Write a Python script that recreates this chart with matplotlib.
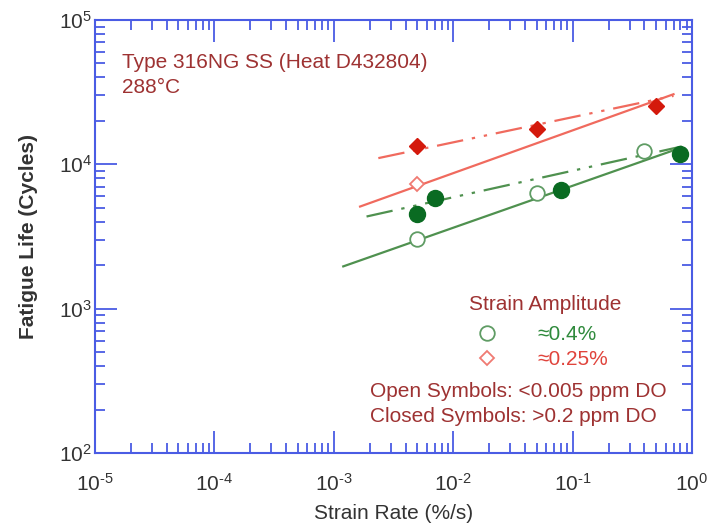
import matplotlib
matplotlib.use("Agg")
import matplotlib.pyplot as plt
from matplotlib.ticker import LogLocator, NullFormatter, FuncFormatter
import numpy as np

plt.rcParams['font.family'] = ['Liberation Sans', 'DejaVu Sans']
plt.rcParams['mathtext.fontset'] = 'custom'
plt.rcParams['mathtext.rm'] = 'Liberation Sans'
plt.rcParams['axes.unicode_minus'] = False

# ---- data ----
# 0.4% strain amplitude, open symbols (<0.005 ppm DO)
g_open_rate = [0.005, 0.05, 0.40]
g_open_life = [3040, 6320, 12460]
# 0.4% strain amplitude, closed symbols (>0.2 ppm DO)
g_closed_rate = [0.005, 0.007, 0.08, 0.80]
g_closed_life = [4540, 5890, 6660, 11820]
# 0.25% strain amplitude, open symbols
r_open_rate = [0.005]
r_open_life = [7330]
# 0.25% strain amplitude, closed symbols
r_closed_rate = [0.005, 0.05, 0.50]
r_closed_life = [13430, 17600, 25400]

# trend lines (end points)
g_solid_rate = [0.0012, 0.79]
g_solid_life = [1963, 12950]
g_dash_rate = [0.00188, 0.82]
g_dash_life = [4350, 13290]
r_solid_rate = [0.00166, 0.70]
r_solid_life = [5100, 30600]
r_dash_rate = [0.00236, 0.70]
r_dash_life = [11040, 29800]

xlim = (1e-5, 1.0)
ylim = (1e2, 1e5)

# ---- colours ----
BLUE = '#4a5ce4'
DARKRED = '#9e3232'
GRAY = '#333333'
RED_LINE = '#f06a5e'
RED_FILL = '#d4190c'
RED_OPEN = '#f07a72'
GREEN_LINE = '#4f914f'
GREEN_FILL = '#0a6b22'
GREEN_OPEN = '#5f9c64'

FS = 15


def pow10(v, pos):
    e = int(round(np.log10(v)))
    if e < 0:
        return r'$\mathdefault{10^{\text{-}%d}}$' % (-e)
    return r'$\mathdefault{10^{%d}}$' % e


fig = plt.figure(figsize=(7.18, 5.28), dpi=100)
ax = fig.add_axes([95/718, 75/528, 597/718, 433/528])
ax.set_xscale('log')
ax.set_yscale('log')
ax.set_xlim(*xlim)
ax.set_ylim(*ylim)

dd = (0, (12, 4, 1.5, 4, 1.5, 4))
ax.plot(g_solid_rate, g_solid_life, color=GREEN_LINE, lw=1.6, zorder=2)
ax.plot(g_dash_rate, g_dash_life, color=GREEN_LINE, lw=1.6, ls=dd, zorder=2)
ax.plot(r_solid_rate, r_solid_life, color=RED_LINE, lw=1.6, zorder=2)
ax.plot(r_dash_rate, r_dash_life, color=RED_LINE, lw=1.6, ls=dd, zorder=2)

ax.plot(g_open_rate, g_open_life, 'o', ms=10.5, mfc='white', mec=GREEN_OPEN, mew=1.3, zorder=3)
ax.plot(g_closed_rate, g_closed_life, 'o', ms=11.5, mfc=GREEN_FILL, mec=GREEN_FILL, zorder=3)
ax.plot(r_open_rate, r_open_life, 'D', ms=7.5, mfc='white', mec=RED_OPEN, mew=1.3, zorder=3)
ax.plot(r_closed_rate, r_closed_life, 'D', ms=8, mfc=RED_FILL, mec=RED_FILL, zorder=3)

# spines / ticks
for s in ax.spines.values():
    s.set_color(BLUE)
    s.set_linewidth(1.5)
ax.xaxis.set_major_locator(LogLocator(base=10, numticks=10))
ax.yaxis.set_major_locator(LogLocator(base=10, numticks=10))
ax.xaxis.set_minor_locator(LogLocator(base=10, subs=range(2, 10), numticks=20))
ax.yaxis.set_minor_locator(LogLocator(base=10, subs=range(2, 10), numticks=20))
ax.xaxis.set_major_formatter(FuncFormatter(pow10))
ax.yaxis.set_major_formatter(FuncFormatter(pow10))
ax.xaxis.set_minor_formatter(NullFormatter())
ax.yaxis.set_minor_formatter(NullFormatter())
ax.tick_params(which='both', direction='in', top=True, right=True, color=BLUE, width=1.3)
ax.tick_params(which='major', length=16)
ax.tick_params(which='minor', length=7.5)
ax.tick_params(axis='x', which='major', pad=14, labelsize=FS, labelcolor=GRAY)
ax.tick_params(axis='y', which='major', pad=2, labelsize=FS, labelcolor=GRAY)

ax.set_xlabel('Strain Rate (%/s)', fontsize=FS, color=GRAY)
ax.set_ylabel('Fatigue Life (Cycles)', fontsize=FS, color=GRAY, fontweight='bold')
ax.xaxis.set_label_coords(0.5, -0.139)
ax.xaxis.label.set_va('center')
ax.yaxis.set_label_coords(-0.112, 0.5)
ax.yaxis.label.set_va('center')

T = ax.transAxes
ax.text(0.0447, 0.888, 'Type 316NG SS (Heat D432804)', transform=T, fontsize=FS,
        color=DARKRED, va='baseline', ha='left')
ax.text(0.0447, 0.831, '288°C', transform=T, fontsize=FS,
        color=DARKRED, va='baseline', ha='left')

ax.text(0.7546, 0.330, 'Strain Amplitude', transform=T, fontsize=FS,
        color=DARKRED, va='baseline', ha='center')
ax.plot([0.6566], [0.277], 'o', ms=10.5, mfc='white', mec=GREEN_OPEN, mew=1.3,
        transform=T, clip_on=False)
ax.plot([0.6566], [0.2194], 'D', ms=7.5, mfc='white', mec=RED_OPEN, mew=1.3,
        transform=T, clip_on=False)
ax.text(0.741, 0.261, '≈0.4%', transform=T, fontsize=FS, color='#2f8a3c',
        va='baseline', ha='left')
ax.text(0.741, 0.203, '≈0.25%', transform=T, fontsize=FS, color='#e0443c',
        va='baseline', ha='left')
ax.text(0.4606, 0.129, 'Open Symbols: <0.005 ppm DO', transform=T, fontsize=FS,
        color=DARKRED, va='baseline', ha='left')
ax.text(0.4606, 0.0716, 'Closed Symbols: >0.2 ppm DO', transform=T, fontsize=FS,
        color=DARKRED, va='baseline', ha='left')

fig.savefig('out.png', dpi=100)
